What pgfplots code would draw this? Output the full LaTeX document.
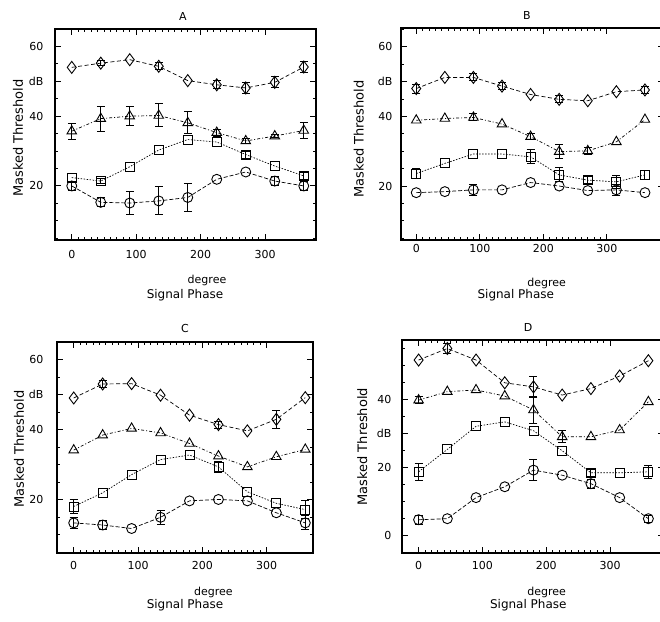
\documentclass[border=0pt]{standalone}
\usepackage{pgfplots}
\pgfplotsset{compat=1.18}
\usepackage{pgfplotstable}
\usepackage{fontspec}
\setmainfont{DejaVu Sans}

% columns: phase, then value and error for diamonds (d), triangles (t), squares (s), circles (c)
\pgfplotstableread{
x   d    de   t    te   s    se   c    ce
0   54.0 0    35.7 2.3  22.4 0    20.0 1.2
45  55.2 0.8  39.3 3.6  21.4 0.6  15.3 1.3
90  56.2 0    40.0 2.8  25.5 0    15.1 3.3
135 54.3 1.0  40.2 3.3  30.3 0    15.7 4.0
180 50.2 0    38.1 3.2  33.3 0    16.7 4.0
225 49.0 1.2  35.3 1.0  32.6 0    21.9 0
270 48.1 1.5  32.9 0.6  29.0 1.0  24.0 0
315 49.7 1.6  34.3 0.5  25.7 0    21.4 1.2
360 54.1 1.5  35.9 2.4  22.9 1.0  20.0 1.2
}\dataA
\pgfplotstableread{
x   d    de   t    te   s    se   c    ce
0   48.0 1.3  38.9 0    23.6 1.5  18.1 0
45  51.2 0    39.4 0    26.5 0    18.4 0
90  51.2 1.0  39.7 1.0  29.2 0    18.9 1.5
135 48.7 1.0  37.8 0    29.2 0    18.9 0
180 46.3 0    34.2 0.8  28.4 2.0  21.0 0
225 44.9 1.0  29.9 2.0  23.2 2.0  20.0 0
270 44.5 0    30.1 1.0  21.7 1.0  18.7 0
315 47.1 0    32.7 0    21.2 1.8  18.9 1.5
360 47.6 1.0  39.1 0    23.2 1.2  18.1 0
}\dataB
\pgfplotstableread{
x   d    de   t    te   s    se   c    ce
0   49.0 0    34.1 0    18.0 2.0  13.3 1.5
45  53.0 1.0  38.4 0    21.9 0    12.7 1.2
90  53.1 0    40.3 0    27.1 0    11.7 0
135 49.8 0    39.0 0    31.4 0    14.9 2.0
180 44.1 0    36.0 0    32.7 0    19.6 0
225 41.4 1.0  32.4 0    29.3 1.5  20.0 0
270 39.6 0    29.3 0    22.2 0    19.6 0
315 42.9 2.5  32.2 0    18.9 0    16.2 0
360 49.1 0    34.3 0    17.1 2.5  13.3 2.0
}\dataC
\pgfplotstableread{
x   d    de   t    te   s    se   c    ce
0   51.6 0    39.8 1.0  18.7 2.5  4.6  1.3
45  55.0 1.5  42.3 0    25.3 0    4.9  0
90  51.6 0    42.8 0    32.1 0    11.1 0
135 44.9 0    41.0 0    33.4 0    14.3 0
180 43.7 3.0  36.9 4.0  30.8 0    19.2 3.0
225 41.3 0    29.0 1.8  24.9 0    17.7 0
270 43.2 0    29.0 0    18.4 1.0  15.2 1.3
315 46.9 0    31.0 0    18.4 0    11.1 0
360 51.4 0    39.3 0    18.7 2.0  4.9  1.0
}\dataD

\pgfplotsset{
  panel/.style={
    scale only axis, anchor=south west,
    axis line style={line width=1.3pt},
    tick style={black, line width=0.9pt},
    major tick length=6pt, minor tick length=3pt,
    tick align=inside,
    xtick={0,100,200,300}, minor x tick num=9,
    ticklabel style={font=\fontsize{11}{13}\selectfont},
    /pgf/number format/assume math mode=true,
    yticklabel style={xshift=-8pt},
  },
  dline/.style={black, line width=0.7pt, dash pattern=on 4pt off 2.5pt,
    mark=diamond, mark size=6pt, mark options={solid, fill=white, line width=0.9pt}},
  tline/.style={black, line width=0.7pt, dash pattern=on 3pt off 2pt on 1pt off 2pt,
    mark=triangle, mark size=5.5pt, mark options={solid, fill=white, line width=0.9pt}},
  sline/.style={black, line width=0.7pt, dash pattern=on 1.5pt off 1.5pt,
    mark=square, mark size=4.5pt, mark options={solid, fill=white, line width=0.9pt}},
  cline/.style={black, line width=0.7pt, dash pattern=on 4pt off 2pt,
    mark=o, mark size=5pt, mark options={solid, fill=white, line width=0.9pt}},
}

% one series: error bars (only where the error is non-zero), then the line with marks on top
\newcommand{\series}[4]{%
  \addplot[forget plot, draw=none, mark=none,
    x filter/.expression={\thisrow{#3}>0 ? x : nan},
    error bars/.cd, y dir=both, y explicit,
    error bar style={draw=black, solid, line width=1pt},
    error mark=-,
    error mark options={rotate=90, draw=black, solid, mark size=4pt, line width=1pt}]
    table[x=x, y=#2, y error=#3] {#1};
  \addplot[#4] table[x=x, y=#2] {#1};
}
\newcommand{\allseries}[1]{%
  \series{#1}{d}{de}{dline}
  \series{#1}{t}{te}{tline}
  \series{#1}{s}{se}{sline}
  \series{#1}{c}{ce}{cline}
}

\begin{document}
\begin{tikzpicture}[x=1pt,y=1pt]
\useasboundingbox (0,0) rectangle (660,621);
\clip (0,0) rectangle (660,621);

% A
\begin{axis}[panel, at={(55pt,381pt)}, width=261pt, height=211pt,
  xmin=-26, xmax=379, ymin=4.5, ymax=65,
  ytick={20,40,50,60}, yticklabels={20,40,dB,60}, minor ytick={5,10,...,65},
  xticklabel style={yshift=-7pt}]
  \allseries{\dataA}
\end{axis}

% B (its right edge runs past the page)
\begin{axis}[panel, at={(401pt,381pt)}, width=263pt, height=212pt,
  xmin=-24, xmax=390, ymin=4.5, ymax=65.4,
  ytick={20,40,50,60}, yticklabels={20,40,dB,60}, minor ytick={5,10,...,65},
  yticklabel style={xshift=3pt},
  xticklabel style={yshift=-1pt}]
  \allseries{\dataB}
\end{axis}

% C
\begin{axis}[panel, at={(57pt,68pt)}, width=256pt, height=211pt,
  xmin=-26, xmax=372, ymin=4.7, ymax=65,
  ytick={20,40,50,60}, yticklabels={20,40,dB,60}, minor ytick={5,10,...,65},
  yticklabel style={xshift=-2pt},
  xticklabel style={yshift=-5pt}]
  \allseries{\dataC}
\end{axis}

% D (its right edge runs past the page)
\begin{axis}[panel, at={(402pt,68pt)}, width=262pt, height=213pt,
  xmin=-26, xmax=384.5, ymin=-5.2, ymax=57.5,
  ytick={0,20,30,40}, yticklabels={0,20,dB,40}, minor ytick={-5,0,...,55},
  yticklabel style={xshift=1pt},
  xticklabel style={yshift=-5pt}]
  \allseries{\dataD}
\end{axis}

% panel titles
\node[font=\fontsize{11}{13}\selectfont] at (183,605) {A};
\node[font=\fontsize{11}{13}\selectfont] at (527,606) {B};
\node[font=\fontsize{11}{13}\selectfont] at (185,293) {C};
\node[font=\fontsize{11}{13}\selectfont] at (528,294) {D};

% axis labels
\foreach \px/\py in {18/483, 358.7/482, 19/172, 362.3/174.3}
  \node[rotate=90, font=\fontsize{13}{15}\selectfont] at (\px,\py) {Masked Threshold};
\foreach \px/\py in {207/341, 546.7/337.7, 213.3/28.3, 546.7/28.3}
  \node[font=\fontsize{11}{13}\selectfont] at (\px,\py) {degree};
\foreach \px/\py in {185/326, 515.8/326, 185/16, 528.3/16}
  \node[font=\fontsize{12}{14}\selectfont] at (\px,\py) {Signal Phase};
\end{tikzpicture}
\end{document}
